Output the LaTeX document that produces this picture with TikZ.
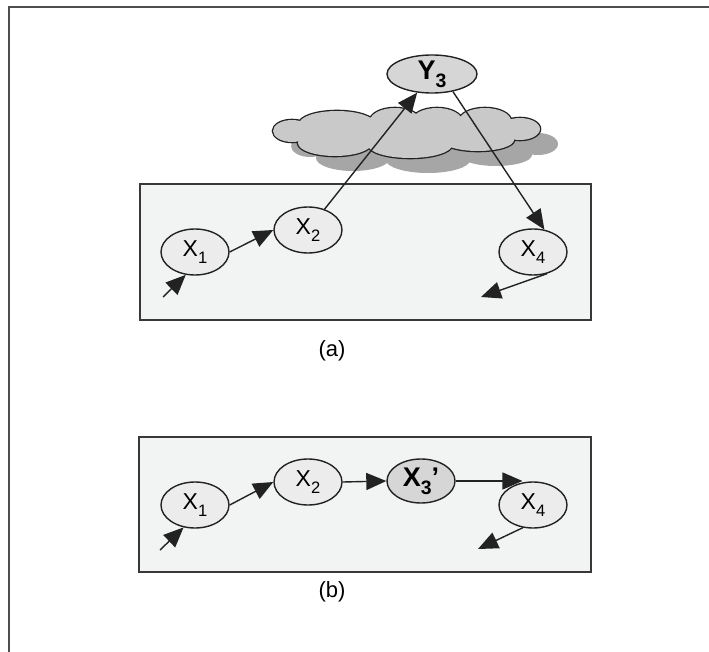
\documentclass[tikz,border=0pt]{standalone}
\usepackage{fontspec}
\setmainfont{Liberation Sans}
\usetikzlibrary{shapes.geometric,arrows.meta,calc}
\definecolor{boxfill}{HTML}{F2F4F4}
\definecolor{nodefill}{HTML}{ECECEC}
\definecolor{darkfill}{HTML}{D6D6D6}
\definecolor{cloudfill}{HTML}{C9C9C9}
\definecolor{shadowfill}{HTML}{A6A6A6}
\definecolor{ink}{HTML}{222222}
\newcommand\lowsub[1]{\raisebox{-0.3em}{\scalebox{0.72}{#1}}}
\newcommand\cloudblobs{%
  (292,131) ellipse [x radius=19, y radius=11]
  (337,124) ellipse [x radius=38, y radius=13]
  (395,121) ellipse [x radius=25, y radius=13]
  (437,121) ellipse [x radius=25, y radius=13]
  (485,121) ellipse [x radius=26, y radius=13]
  (520,129) ellipse [x radius=20, y radius=11]
  (335,143) ellipse [x radius=37, y radius=13]
  (410,145) ellipse [x radius=42, y radius=13]
  (478,140) ellipse [x radius=36, y radius=11]
  (410,132) ellipse [x radius=100, y radius=16]}
\tikzset{
  panel/.style={draw=ink!90, line width=2pt, fill=boxfill},
  var/.style={ellipse, draw=ink, line width=1.4pt, fill=nodefill, minimum width=68, minimum height=46, inner sep=0pt, font=\fontsize{23}{23}\selectfont},
  hidden/.style={var, fill=darkfill, font=\fontsize{27}{27}\selectfont\bfseries},
  edge/.style={draw=ink, line width=1.4pt, -{Triangle[length=20pt,width=17pt]}},
  caption/.style={font=\fontsize{22}{22}\selectfont, inner sep=0pt}
}
\begin{document}
\begin{tikzpicture}[x=1pt,y=-1pt]
\useasboundingbox (0,0) rectangle (709,652);
% outer frame (top and left only)
\draw[ink!80, line width=1.8pt] (9,652) -- (9,7) -- (709,7);
% panel (a)
\draw[panel] (140,184) rectangle (591,320);
% cloud with shadow
\begin{scope}[shift={(18,15)}]
\fill[shadowfill] \cloudblobs;
\end{scope}
\path[draw=ink, line width=2.6pt, fill=cloudfill] \cloudblobs;
\fill[cloudfill] \cloudblobs;
\node[var] (a1) at (195,252) {X\lowsub{1}};
\node[var] (a2) at (308,230) {X\lowsub{2}};
\node[var] (a4) at (533,252) {X\lowsub{4}};
\node[hidden, minimum width=90, minimum height=38] (y3) at (432,74) {Y\lowsub{3}};
\coordinate (ain) at (163,297);
\coordinate (aout) at (481,297);
\draw[edge] (ain) -- (a1.-112);
\draw[edge] (a1.east) -- (a2.west);
\draw[edge] (a2) -- (y3);
\draw[edge] (y3.-40) -- (a4.63);
\draw[edge] (a4.-57) -- (aout);
\node[caption] (capa) at (332,351) {(a)};
% panel (b)
\draw[panel] (139,437) rectangle (591,572);
\node[var] (b1) at (195,505) {X\lowsub{1}};
\node[var] (b2) at (308,482) {X\lowsub{2}};
\node[hidden, minimum height=44] (b3) at (421,481) {X\lowsub{3}’};
\node[var] (b4) at (533,505) {X\lowsub{4}};
\coordinate (bin) at (160,550);
\coordinate (bout) at (478,549);
\draw[edge] (bin) -- (b1.-117);
\draw[edge] (b1.east) -- (b2.west);
\draw[edge] (b2.east) -- (b3.west);
\draw[edge] (b3.east) -- (b3.east -| b4.115);
\draw[edge] (b4.-114) -- (bout);
\node[caption] (capb) at (332,592) {(b)};
\end{tikzpicture}
\end{document}
